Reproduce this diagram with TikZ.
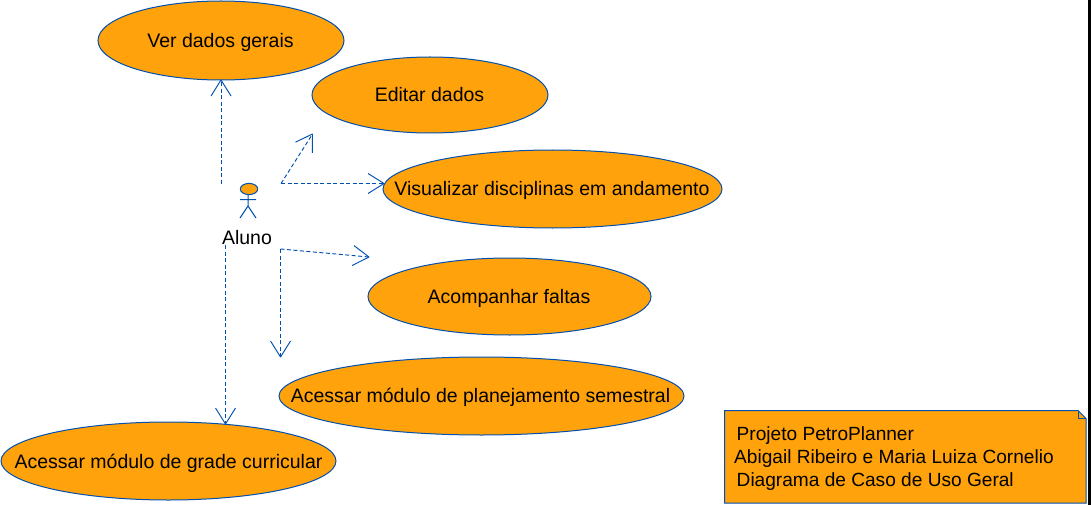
\documentclass[tikz,border=0pt]{standalone}
\usepackage{fontspec}
\setmainfont{Liberation Sans}
\usetikzlibrary{arrows.meta}
\definecolor{ucfill}{HTML}{FFA20B}
\definecolor{ucline}{HTML}{0050B0}
\pgfdeclarearrow{
  name=OpenV,
  setup code={%
    \pgfarrowssettipend{0pt}\pgfarrowssetlineend{-0.5pt}%
    \pgfarrowssetvisualbackend{-16pt}\pgfarrowssetbackend{-16pt}%
    \pgfarrowshullpoint{0pt}{0pt}\pgfarrowshullpoint{-16pt}{10pt}\pgfarrowshullpoint{-16pt}{-10pt}},
  drawing code={%
    \pgfsetdash{}{0pt}\pgfsetbeveljoin
    \pgfpathmoveto{\pgfqpoint{-16pt}{10pt}}%
    \pgfpathlineto{\pgfqpoint{0pt}{0pt}}%
    \pgfpathlineto{\pgfqpoint{-16pt}{-10pt}}%
    \pgfusepathqstroke}
}
\tikzset{
  x=1pt,y=-1pt,
  usecase/.style={draw=ucline,fill=ucfill,line width=1pt},
  uctext/.style={font=\fontsize{19.5}{23}\selectfont,text=black,inner sep=0pt,anchor=base},
  notetext/.style={font=\fontsize{19.1}{23}\selectfont,text=black,inner sep=0pt,anchor=base west},
  dep/.style={draw=ucline,line width=0.95pt,dash pattern=on 4pt off 2.5pt,-OpenV},
  actor/.style={draw=ucline,line width=1pt},
}
\begin{document}
\begin{tikzpicture}
\useasboundingbox (0,0) rectangle (1091,505);
\fill[white] (0,0) rectangle (1091,505);
\fill[black] (1088,0) rectangle (1091,505);
% use cases
\path[usecase] (221,40.5) ellipse [x radius=123,y radius=39.5];
\node[uctext] (a) at (220.5,47.7) {Ver dados gerais};
\path[usecase] (430,95) ellipse [x radius=118,y radius=38];
\node[uctext] (b) at (429.5,102) {Editar dados};
\path[usecase] (552.5,189) ellipse [x radius=169.5,y radius=39];
\node[uctext] (c) at (552,195) {Visualizar disciplinas em andamento};
\path[usecase] (509.5,296.5) ellipse [x radius=141.5,y radius=38.5];
\node[uctext] (d) at (509,303) {Acompanhar faltas};
\path[usecase] (481.5,396) ellipse [x radius=202.5,y radius=39];
\node[uctext] (e) at (480.5,402) {Acessar módulo de planejamento semestral};
\path[usecase] (168.5,461) ellipse [x radius=167.5,y radius=39];
\node[uctext] (f) at (168.5,468) {Acessar módulo de grade curricular};
% actor
\path[usecase] (249,189) ellipse [x radius=8.7,y radius=5.6];
\draw[actor] (248,194.5) -- (248,206) -- (240,218) (248,206) -- (256,218) (240,199.5) -- (256,199.5);
\node[uctext] (aluno) at (247,244) {Aluno};
% connector ends
\coordinate (s1) at (221,184);
\coordinate (t1) at (221,80);
\coordinate (s2) at (281,183.5);
\coordinate (t2) at (312.5,134);
\coordinate (t3) at (384,183.5);
\coordinate (s4) at (280.5,249);
\coordinate (t4) at (369,257);
\coordinate (t5) at (280.5,357);
\coordinate (s6) at (225.5,245);
\coordinate (t6) at (225.5,424);
\draw[dep] (s1) -- (t1);
\draw[dep] (s2) -- (t2);
\draw[dep] (s2) -- (t3);
\draw[dep] (s4) -- (t4);
\draw[dep] (s4) -- (t5);
\draw[dep] (s6) -- (t6);
% note
\path[usecase] (724.5,410.5) -- (1078,410.5) -- (1086,418.5) -- (1086,503) -- (724.5,503) -- cycle;
\draw[actor] (1078,410.5) -- (1078,418.5) -- (1086,418.5);
\node[notetext] (n1) at (736.5,440) {Projeto PetroPlanner};
\node[notetext] (n2) at (734,463) {Abigail Ribeiro e Maria Luiza Cornelio};
\node[notetext] (n3) at (736.5,486) {Diagrama de Caso de Uso Geral};
\end{tikzpicture}
\end{document}
